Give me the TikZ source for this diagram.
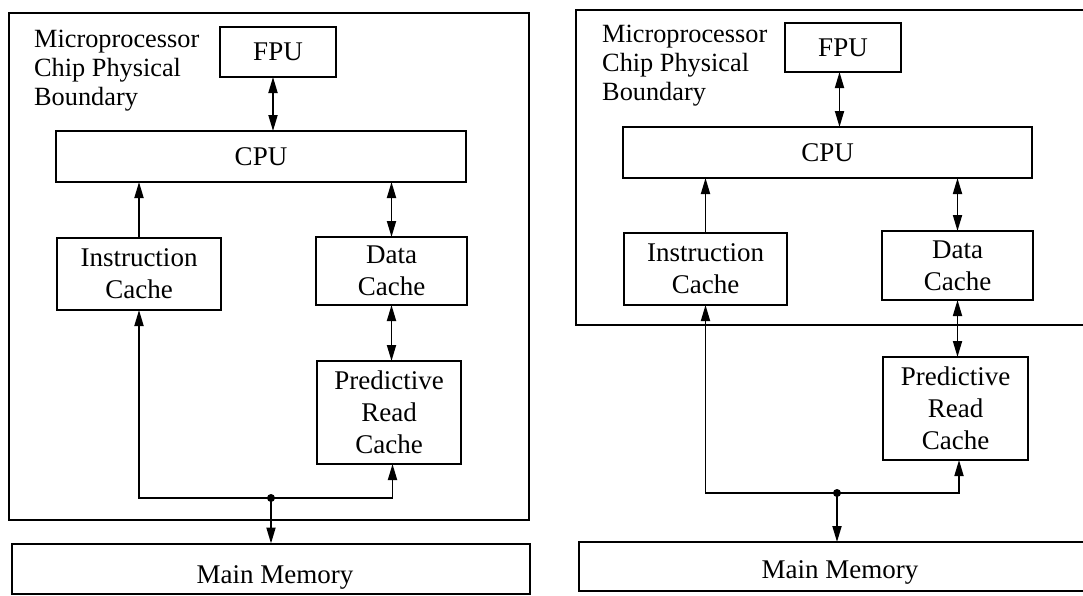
\documentclass[tikz,border=0pt]{standalone}
\usepackage{fontspec}
\setmainfont{Liberation Serif}
\usetikzlibrary{arrows.meta}
\begin{document}
\begin{tikzpicture}[x=1pt,y=-1pt,
  >={Triangle[length=16pt,width=9pt]},
  box/.style={draw, line width=2pt, inner sep=0pt, outer sep=0pt, anchor=north west,
    align=center, font=\fontsize{27}{32}\selectfont},
  chipframe/.style={draw, line width=2pt, inner sep=0pt, outer sep=0pt, anchor=north west},
  lbl/.style={inner sep=0pt, anchor=north west, align=left, font=\fontsize{26.3}{29}\selectfont},
  txt/.style={inner sep=0pt, font=\fontsize{27}{32}\selectfont},
  conn/.style={line width=1.8pt},
  dot/.style={fill=black}
]
\useasboundingbox (0,0) rectangle (1083,595);

% ---------- left diagram ----------
\node[chipframe, minimum width=520pt, minimum height=507pt] (chipL) at (9,13) {};
\node[lbl] (chipLlbl) at (34,30) {Microprocessor\\Chip Physical\\Boundary};
\node[box, minimum width=116pt, minimum height=50pt] (fpuL) at (220,27) {FPU};
\node[box, minimum width=410pt, minimum height=51pt] (cpuL) at (56,131) {CPU};
\node[box, minimum width=164pt, minimum height=72pt] (icL) at (57,238) {Instruction\\Cache};
\node[box, minimum width=151pt, minimum height=68pt] (dcL) at (316,237) {Data\\Cache};
\node[box, minimum width=144pt, minimum height=103pt] (prcL) at (317,361) {Predictive\\Read\\Cache};
\node[box, minimum width=518pt, minimum height=50pt] (mmL) at (12,543.5) {};
\node[txt] (mmLt) at (275,577) {Main Memory};
\coordinate (jL) at (271,498);

\draw[conn,<->] ([xshift=-5pt]fpuL.south) -- ([xshift=-5pt]fpuL.south |- cpuL.north);
\draw[conn,->] (icL.north) -- (icL.north |- cpuL.south);
\draw[conn,<->] (dcL.north) -- (dcL.north |- cpuL.south);
\draw[conn,<->] (dcL.south) -- (dcL.south |- prcL.north);
\draw[conn,->] (jL) -| (icL.south);
\draw[conn,->] (jL) -| ([xshift=3.5pt]prcL.south);
\draw[conn,->] (jL) -- (jL |- mmL.north);
\fill[dot] (jL) circle (4pt);

% ---------- right diagram ----------
\node[chipframe, minimum width=530pt, minimum height=315pt] (chipR) at (576,10) {};
\node[lbl] (chipRlbl) at (602,25) {Microprocessor\\Chip Physical\\Boundary};
\node[box, minimum width=116pt, minimum height=49pt] (fpuR) at (785,23) {FPU};
\node[box, minimum width=409pt, minimum height=51pt] (cpuR) at (623,127) {CPU};
\node[box, minimum width=163pt, minimum height=72pt] (icR) at (624,233) {Instruction\\Cache};
\node[box, minimum width=151pt, minimum height=69pt] (dcR) at (882,231) {Data\\Cache};
\node[box, minimum width=145pt, minimum height=103pt] (prcR) at (883,357) {Predictive\\Read\\Cache};
\node[box, minimum width=530pt, minimum height=49pt] (mmR) at (579,542) {};
\node[txt] (mmRt) at (840,572.5) {Main Memory};
\coordinate (jR) at (837,493);

\draw[conn,<->] ([xshift=-3.5pt]fpuR.south) -- ([xshift=-3.5pt]fpuR.south |- cpuR.north);
\draw[conn,->] (icR.north) -- (icR.north |- cpuR.south);
\draw[conn,<->] (dcR.north) -- (dcR.north |- cpuR.south);
\draw[conn,<->] (dcR.south) -- (dcR.south |- prcR.north);
\draw[conn,->] (jR) -| (icR.south);
\draw[conn,->] (jR) -| ([xshift=3.5pt]prcR.south);
\draw[conn,->] (jR) -- (jR |- mmR.north);
\fill[dot] (jR) circle (4pt);
\end{tikzpicture}
\end{document}
